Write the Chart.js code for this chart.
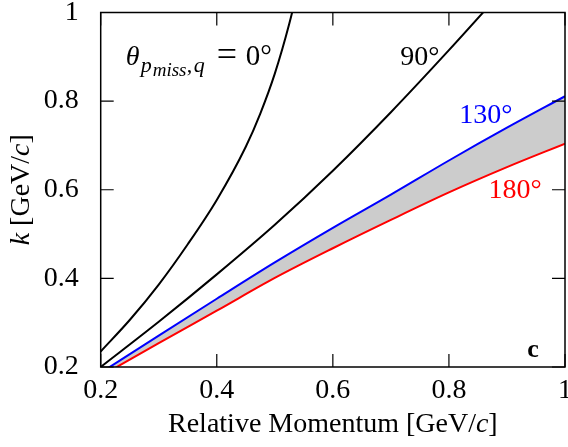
<!DOCTYPE html>
<html>
<head>
<meta charset="utf-8">
<script src="https://cdn.jsdelivr.net/npm/chart.js@4.4.1/dist/chart.umd.min.js"></script>
<style>
  body { margin: 0; background: #fff; }
  #wrap { width: 568px; height: 447px; }
</style>
</head>
<body>
<div id="wrap"><canvas id="kChart"></canvas></div>
<script>
// axis ticks
const xTicks = [0.2, 0.4, 0.6, 0.8, 1];
const xTickLabels = ['0.2', '0.4', '0.6', '0.8', '1'];
const yTicks = [0.2, 0.4, 0.6, 0.8, 1];
const yTickLabels = ['0.2', '0.4', '0.6', '0.8', '1'];

// theta = 0 deg
const p0 = [0.2, 0.25, 0.3, 0.35, 0.4, 0.45, 0.475, 0.5, 0.525, 0.55];
const k0 = [0.235, 0.306, 0.386, 0.477, 0.577, 0.697, 0.772, 0.862, 0.975, 1.112];

// theta = 90 deg
const p90 = [0.2, 0.3, 0.4, 0.5, 0.6, 0.7, 0.8, 0.9];
const k90 = [0.2, 0.302, 0.409, 0.521, 0.643, 0.775, 0.915, 1.06];

// theta = 130 / 180 deg (band)
const pBand = [0.2, 0.3, 0.4, 0.5, 0.6, 0.7, 0.8, 0.9, 1.0];
const k130 = [0.187, 0.271, 0.354, 0.436, 0.514, 0.589, 0.666, 0.740, 0.811];
const k180 = [0.179, 0.254, 0.327, 0.401, 0.468, 0.532, 0.594, 0.651, 0.704];

const SERIF = '"Liberation Serif", "Times New Roman", serif';

function pts(xs, ys) {
    return xs.map((x, i) => ({ x: x, y: ys[i] }));
}

// draws text runs left to right; a run with "at" is placed at that offset from the start
function drawRuns(ctx, x, y, runs, color) {
    ctx.fillStyle = color;
    ctx.textBaseline = 'alphabetic';
    ctx.textAlign = 'left';
    let cur = x;
    runs.forEach(r => {
        ctx.font = r.font;
        if (r.at !== undefined) cur = x + r.at;
        ctx.fillText(r.t, cur, y + (r.dy || 0));
        cur += ctx.measureText(r.t).width;
    });
}

function runsWidth(ctx, runs) {
    let w = 0;
    runs.forEach(r => { ctx.font = r.font; w += ctx.measureText(r.t).width; });
    return w;
}

const decor = {
    id: 'decor',
    afterDraw(chart) {
        const { ctx, chartArea: a, scales: { x, y } } = chart;
        ctx.save();

        // frame
        ctx.strokeStyle = '#000';
        ctx.lineWidth = 1.5;
        ctx.strokeRect(a.left, a.top, a.right - a.left, a.bottom - a.top);

        // inward ticks on all sides
        const tl = 13;
        ctx.lineWidth = 1.2;
        ctx.beginPath();
        xTicks.forEach(v => {
            const px = x.getPixelForValue(v);
            ctx.moveTo(px, a.bottom); ctx.lineTo(px, a.bottom - tl);
            ctx.moveTo(px, a.top); ctx.lineTo(px, a.top + tl);
        });
        yTicks.forEach(v => {
            const py = y.getPixelForValue(v);
            ctx.moveTo(a.left, py); ctx.lineTo(a.left + tl, py);
            ctx.moveTo(a.right, py); ctx.lineTo(a.right - tl, py);
        });
        ctx.stroke();

        const rom = s => s + 'px ' + SERIF;
        const ita = s => 'italic ' + s + 'px ' + SERIF;

        // curve labels
        drawRuns(ctx, x.getPixelForValue(0.243), y.getPixelForValue(0.881), [
            { t: 'θ', font: ita(28), at: 0 },
            { t: 'p', font: ita(22), dy: 7, at: 15 },
            { t: 'miss', font: ita(19), dy: 11, at: 27 },
            { t: ',', font: rom(22), dy: 7, at: 61 },
            { t: 'q', font: ita(22), dy: 7, at: 68 },
            { t: '=', font: rom(36), dy: 1, at: 91 },
            { t: '0°', font: rom(29), at: 120 }
        ], '#000');
        drawRuns(ctx, x.getPixelForValue(0.716), y.getPixelForValue(0.881), [{ t: '90°', font: rom(28) }], '#000');
        drawRuns(ctx, x.getPixelForValue(0.818), y.getPixelForValue(0.750), [{ t: '130°', font: rom(28) }], '#0000ff');
        drawRuns(ctx, x.getPixelForValue(0.868), y.getPixelForValue(0.581), [{ t: '180°', font: rom(28) }], '#ff0000');
        drawRuns(ctx, x.getPixelForValue(0.935), y.getPixelForValue(0.2225), [{ t: 'c', font: 'bold 26px ' + SERIF }], '#000');

        // axis titles
        const xt = [
            { t: 'Relative Momentum [GeV/', font: rom(28) },
            { t: 'c', font: ita(28) },
            { t: ']', font: rom(28) }
        ];
        const cx = (a.left + a.right) / 2;
        drawRuns(ctx, cx - runsWidth(ctx, xt) / 2, 432, xt, '#000');

        const yt = [
            { t: 'k', font: ita(28) },
            { t: ' [GeV/', font: rom(28) },
            { t: 'c', font: ita(28) },
            { t: ']', font: rom(28) }
        ];
        ctx.translate(29, (a.top + a.bottom) / 2);
        ctx.rotate(-Math.PI / 2);
        drawRuns(ctx, -runsWidth(ctx, yt) / 2, 0, yt, '#000');

        ctx.restore();
    }
};

const tickFont = { family: SERIF, size: 28 };

new Chart(document.getElementById('kChart'), {
    type: 'line',
    data: {
        datasets: [
            { label: '0', data: pts(p0, k0), borderColor: '#000', borderWidth: 2, fill: false },
            { label: '90', data: pts(p90, k90), borderColor: '#000', borderWidth: 2, fill: false },
            { label: '130', data: pts(pBand, k130), borderColor: '#0000ff', borderWidth: 2, fill: false },
            { label: '180', data: pts(pBand, k180), borderColor: '#ff0000', borderWidth: 2,
              fill: { target: 2 }, backgroundColor: '#cccccc' }
        ]
    },
    options: {
        responsive: true,
        maintainAspectRatio: false,
        animation: false,
        layout: { padding: { top: 12.5, right: 3, left: 0, bottom: 0 } },
        elements: {
            point: { radius: 0 },
            line: { cubicInterpolationMode: 'monotone' }
        },
        plugins: {
            legend: { display: false },
            tooltip: { enabled: false }
        },
        scales: {
            x: {
                type: 'linear', min: 0.2, max: 1,
                grid: { display: false, drawTicks: false },
                border: { display: false },
                afterBuildTicks: s => { s.ticks = xTicks.map(v => ({ value: v })); },
                afterFit: s => { s.height = 80; s.paddingLeft = 0; s.paddingRight = 0; },
                ticks: {
                    color: '#000', font: tickFont, padding: 7, maxRotation: 0,
                    callback: (v, i) => xTickLabels[i]
                }
            },
            y: {
                type: 'linear', min: 0.2, max: 1,
                grid: { display: false, drawTicks: false },
                border: { display: false },
                afterBuildTicks: s => { s.ticks = yTicks.map(v => ({ value: v })); },
                afterFit: s => { s.width = 100.7; s.paddingTop = 0; s.paddingBottom = 0; },
                ticks: {
                    color: '#000', font: tickFont, padding: 22,
                    callback: (v, i) => yTickLabels[i]
                }
            }
        }
    },
    plugins: [decor]
});
</script>
</body>
</html>
